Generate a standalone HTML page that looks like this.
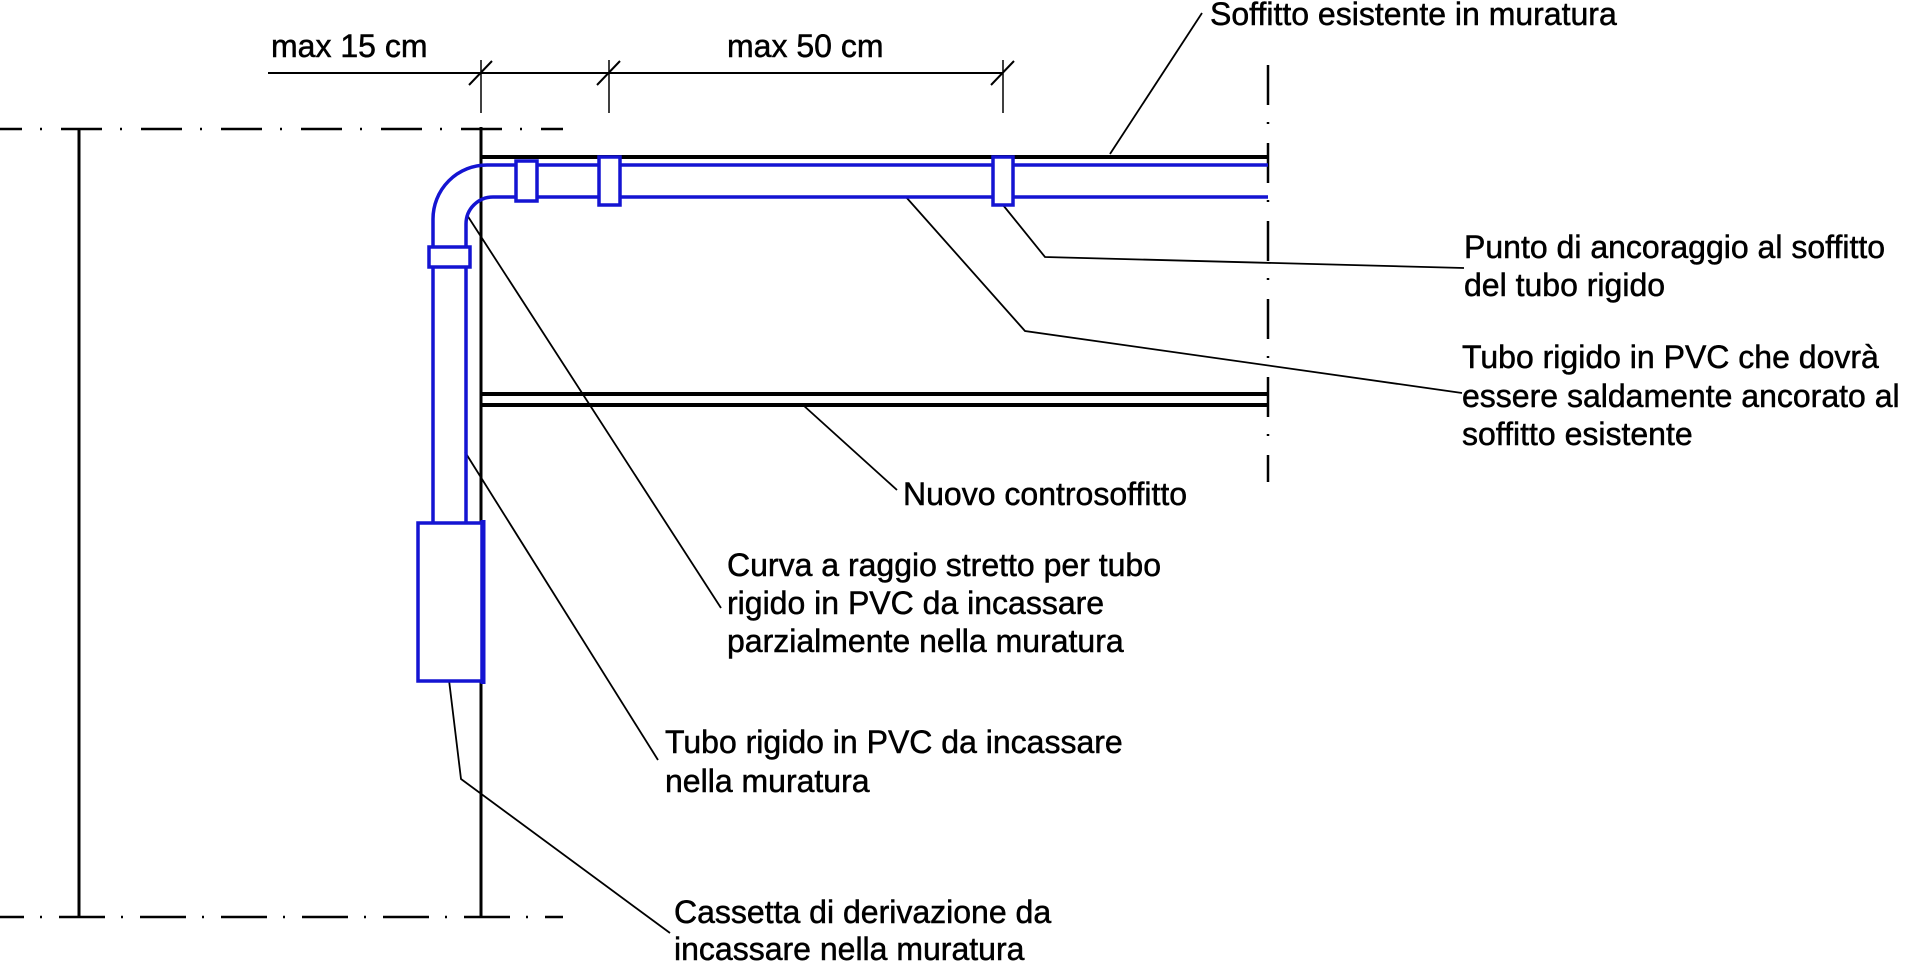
<!DOCTYPE html>
<html><head><meta charset="utf-8"><style>
html,body{margin:0;padding:0;background:#fff;}
svg{display:block;}
text{font-family:"Liberation Sans",Arial,sans-serif;font-size:32px;fill:#000;stroke:#000;stroke-width:0.5px;}
</style></head><body>
<svg width="1907" height="966" viewBox="0 0 1907 966" xmlns="http://www.w3.org/2000/svg">
<g stroke="#000" fill="none">
 <line x1="-19" y1="129" x2="563" y2="129" stroke-width="2.5" stroke-dasharray="41 18 2 19"/>
 <line x1="-22" y1="917" x2="563" y2="917" stroke-width="2.5" stroke-dasharray="46 16 2 17"/>
 <line x1="1268" y1="65" x2="1268" y2="482" stroke-width="2.5" stroke-dasharray="40 17 2 19"/>
 <line x1="79" y1="129" x2="79" y2="917" stroke-width="3"/>
 <line x1="481" y1="127" x2="481" y2="917" stroke-width="3"/>
 <line x1="481" y1="157" x2="1268" y2="157" stroke-width="4"/>
 <line x1="481" y1="394" x2="1268" y2="394" stroke-width="4"/>
 <line x1="481" y1="405" x2="1268" y2="405" stroke-width="4"/>
 <line x1="268" y1="73" x2="1003" y2="73" stroke-width="2"/>
 <line x1="481" y1="60" x2="481" y2="113" stroke-width="1.5"/>
 <line x1="609" y1="60" x2="609" y2="113" stroke-width="1.5"/>
 <line x1="1003" y1="60" x2="1003" y2="113" stroke-width="1.5"/>
 <line x1="469" y1="85" x2="492" y2="61" stroke-width="2"/>
 <line x1="597" y1="85" x2="620" y2="61" stroke-width="2"/>
 <line x1="991" y1="85" x2="1014" y2="61" stroke-width="2"/>
 <g stroke-width="1.8">
  <polyline points="1110,154 1202,13"/>
  <polyline points="1003,205 1045,257 1464,268"/>
  <polyline points="906,197 1025,331 1462,393"/>
  <polyline points="803,405 897,490"/>
  <polyline points="467,215 721,608"/>
  <polyline points="465,452 658,760"/>
  <polyline points="449,680 461,779 670,933"/>
 </g>
</g>
<g stroke="#1414d2" stroke-width="3.5" fill="none">
 <path d="M1268,165 L487,165 A54,54 0 0 0 433,219 L433,523"/>
 <path d="M1268,197 L493,197 A27,27 0 0 0 466,224 L466,523"/>
 <rect x="516" y="161" width="21" height="40" fill="#fff"/>
 <rect x="599" y="157" width="21" height="48" fill="#fff"/>
 <rect x="993" y="157" width="20" height="48" fill="#fff"/>
 <rect x="429" y="247" width="41" height="20" fill="#fff"/>
 <rect x="418" y="523" width="64" height="158" fill="#fff"/>
 <line x1="483" y1="520" x2="483" y2="684" stroke-width="5"/>
</g>
<text x="271" y="57">max 15 cm</text>
<text x="727" y="57">max 50 cm</text>
<text x="1210" y="25">Soffitto esistente in muratura</text>
<text x="1464" y="258">Punto di ancoraggio al soffitto</text>
<text x="1464" y="296">del tubo rigido</text>
<text x="1462" y="368">Tubo rigido in PVC che dovrà</text>
<text x="1462" y="407">essere saldamente ancorato al</text>
<text x="1462" y="445">soffitto esistente</text>
<text x="903" y="505">Nuovo controsoffitto</text>
<text x="727" y="576">Curva a raggio stretto per tubo</text>
<text x="727" y="614">rigido in PVC da incassare</text>
<text x="727" y="652">parzialmente nella muratura</text>
<text x="665" y="753">Tubo rigido in PVC da incassare</text>
<text x="665" y="792">nella muratura</text>
<text x="674" y="923">Cassetta di derivazione da</text>
<text x="674" y="960">incassare nella muratura</text>
</svg>
</body></html>
